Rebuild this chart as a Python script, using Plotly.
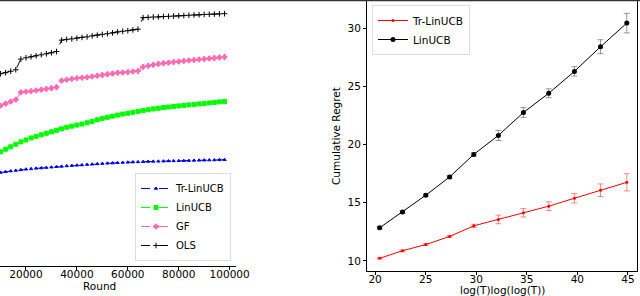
import plotly.graph_objects as go

# ---------------- Left panel data (cumulative regret vs round) ----------------
rounds = [10000, 12000, 14000, 16000, 18000, 20000, 22000, 24000, 26000, 28000,
          30000, 32000, 34000, 36000, 38000, 40000, 42000, 44000, 46000, 48000,
          50000, 52000, 54000, 56000, 58000, 60000, 62000, 64000, 66000, 68000,
          70000, 72000, 74000, 76000, 78000, 80000, 82000, 84000, 86000, 88000,
          90000, 92000, 94000, 96000, 98000]

tr_linucb = [939, 946, 953, 959, 965, 971, 975, 980, 984, 988, 992, 996, 1000, 1004, 1008,
             1011, 1014, 1018, 1021, 1025, 1028, 1031, 1033, 1036, 1039, 1041, 1043, 1045,
             1047, 1049, 1050, 1051, 1052, 1054, 1055, 1056, 1057, 1058, 1060, 1061, 1062,
             1063, 1064, 1066, 1067]
linucb = [1146, 1172, 1197, 1222, 1246, 1265, 1285, 1302, 1317, 1332, 1347, 1362, 1377, 1393,
          1404, 1415, 1425, 1437, 1452, 1468, 1482, 1493, 1504, 1515, 1525, 1534, 1543, 1552,
          1560, 1569, 1577, 1584, 1590, 1596, 1602, 1607, 1612, 1617, 1622, 1627, 1632, 1637,
          1642, 1647, 1652]
gf = [1610, 1630, 1650, 1670, 1743, 1750, 1755, 1762, 1770, 1777, 1785, 1795, 1860, 1870,
      1878, 1885, 1890, 1894, 1902, 1910, 1917, 1925, 1932, 1940, 1942, 1947, 1952, 1957,
      1998, 2010, 2020, 2028, 2035, 2041, 2047, 2052, 2058, 2063, 2068, 2073, 2078, 2083,
      2088, 2093, 2098]
ols = [1930, 1940, 1955, 1970, 2077, 2090, 2100, 2110, 2120, 2130, 2140, 2153, 2267, 2275,
       2280, 2287, 2294, 2300, 2310, 2317, 2325, 2332, 2340, 2350, 2356, 2362, 2370, 2377,
       2493, 2496, 2499, 2501, 2504, 2506, 2509, 2511, 2514, 2517, 2520, 2522, 2525, 2527,
       2529, 2531, 2533]
left_ticks = [20000, 40000, 60000, 80000, 100000]

# ---------------- Right panel data ----------------
logt = [20.45, 22.71, 25.01, 27.37, 29.76, 32.19, 34.67, 37.17, 39.71, 42.29, 44.89]
tr_reg = [10.23, 10.88, 11.41, 12.11, 13.02, 13.57, 14.14, 14.71, 15.39, 16.08, 16.76]
tr_err = [0.05, 0.08, 0.08, 0.06, 0.14, 0.37, 0.36, 0.37, 0.40, 0.54, 0.74]
lin_reg = [12.85, 14.20, 15.65, 17.22, 19.16, 20.79, 22.76, 24.41, 26.29, 28.41, 30.44]
lin_err = [0.10, 0.12, 0.10, 0.12, 0.15, 0.43, 0.42, 0.38, 0.40, 0.60, 0.84]
right_xticks = [20, 25, 30, 35, 40, 45]
right_yticks = [10, 15, 20, 25, 30]

FONT = "DejaVu Sans"
W, H = 640, 296

fig = go.Figure()

left_series = [
    ("Tr-LinUCB", tr_linucb, "#0000ff", "triangle-up", 3),
    ("LinUCB", linucb, "#00ff00", "square", 4),
    ("GF", gf, "#ff69b4", "cross", 4),
    ("OLS", ols, "#000000", "cross-thin", 4),
]
for name, vals, col, sym, sz in left_series:
    fig.add_trace(go.Scatter(
        x=rounds, y=vals, name=name, mode="lines+markers",
        line=dict(color=col, width=1, dash="dash"),
        marker=dict(symbol=sym, size=sz, color=col, line=dict(color=col, width=1)),
        xaxis="x", yaxis="y", legend="legend",
    ))

fig.add_trace(go.Scatter(
    x=logt, y=tr_reg, name="Tr-LinUCB", mode="lines+markers",
    line=dict(color="#ff0000", width=1),
    marker=dict(size=3, color="#ff0000"),
    error_y=dict(type="data", array=tr_err, visible=True,
                 color="rgba(255,0,0,0.45)", thickness=1, width=3),
    xaxis="x2", yaxis="y2", legend="legend2",
))
fig.add_trace(go.Scatter(
    x=logt, y=lin_reg, name="LinUCB", mode="lines+markers",
    line=dict(color="#000000", width=1),
    marker=dict(size=5, color="#000000"),
    error_y=dict(type="data", array=lin_err, visible=True,
                 color="rgba(0,0,0,0.4)", thickness=1, width=3),
    xaxis="x2", yaxis="y2", legend="legend2",
))

tickfont = dict(family=FONT, size=10.5, color="#000000")

fig.update_layout(
    template="none",
    width=W, height=H,
    margin=dict(l=0, r=0, t=0, b=0, autoexpand=False),
    paper_bgcolor="white", plot_bgcolor="white",
    font=dict(family=FONT, size=10.5, color="#000000"),
    xaxis=dict(domain=[0, 236 / W], range=[9800, 102500], automargin=False,
               tickvals=left_ticks, ticktext=[str(v) for v in left_ticks],
               showgrid=False, zeroline=False, showline=True, linecolor="#000000",
               linewidth=1, ticks="outside", ticklen=3, tickcolor="#000000",
               tickfont=tickfont, ticklabelstandoff=-5, anchor="y"),
    yaxis=dict(domain=[1 - 266 / H, 1 - 1 / H], range=[0, 2660], automargin=False,
               showgrid=False, zeroline=False, showline=False,
               showticklabels=False, ticks="", anchor="x"),
    xaxis2=dict(domain=[367 / W, 637 / W], range=[19.2, 45.9], automargin=False,
                tickvals=right_xticks, showgrid=False, zeroline=False,
                showline=True, mirror=True, linecolor="#000000", linewidth=1,
                ticks="outside", ticklen=3, tickcolor="#000000",
                tickfont=tickfont, ticklabelstandoff=-5, anchor="y2"),
    yaxis2=dict(domain=[1 - 271 / H, 1 - 1 / H], range=[9.14, 32.34], automargin=False,
                tickvals=right_yticks, showgrid=False, zeroline=False,
                showline=True, mirror=True, linecolor="#000000", linewidth=1,
                ticks="outside", ticklen=3, tickcolor="#000000",
                tickfont=tickfont, anchor="x2",
                title=dict(text="Cumulative Regret", font=dict(family=FONT, size=10.5),
                           standoff=4)),
    legend=dict(x=231 / W, y=1 - 261 / H, xanchor="right", yanchor="bottom",
                bgcolor="rgba(255,255,255,0.8)", bordercolor="#dddddd", borderwidth=1,
                font=dict(family=FONT, size=10, color="#000000"),
                itemwidth=30, tracegroupgap=0),
    legend2=dict(x=372 / W, y=1 - 5 / H, xanchor="left", yanchor="top",
                 bgcolor="rgba(255,255,255,0.8)", bordercolor="#dddddd", borderwidth=1,
                 font=dict(family=FONT, size=10.5, color="#000000"),
                 itemwidth=30, tracegroupgap=0),
    showlegend=True,
    annotations=[
        dict(text="Round", x=99 / W, y=1 - 286 / H, xref="paper", yref="paper",
             xanchor="center", yanchor="middle", showarrow=False,
             font=dict(family=FONT, size=10.5, color="#000000")),
        dict(text="log(T)log(log(T))", x=502 / W, y=1 - 290 / H, xref="paper", yref="paper",
             xanchor="center", yanchor="middle", showarrow=False,
             font=dict(family=FONT, size=10.5, color="#000000")),
    ],
    shapes=[dict(type="line", xref="paper", yref="paper", x0=0, x1=1,
                 y0=1 - 0.5 / H, y1=1 - 0.5 / H, line=dict(color="#333333", width=1.5))],
)

fig.write_html(
    "out.html",
    config={"displayModeBar": False},
    post_script="document.body.style.margin='0';document.body.style.overflow='hidden';",
)
